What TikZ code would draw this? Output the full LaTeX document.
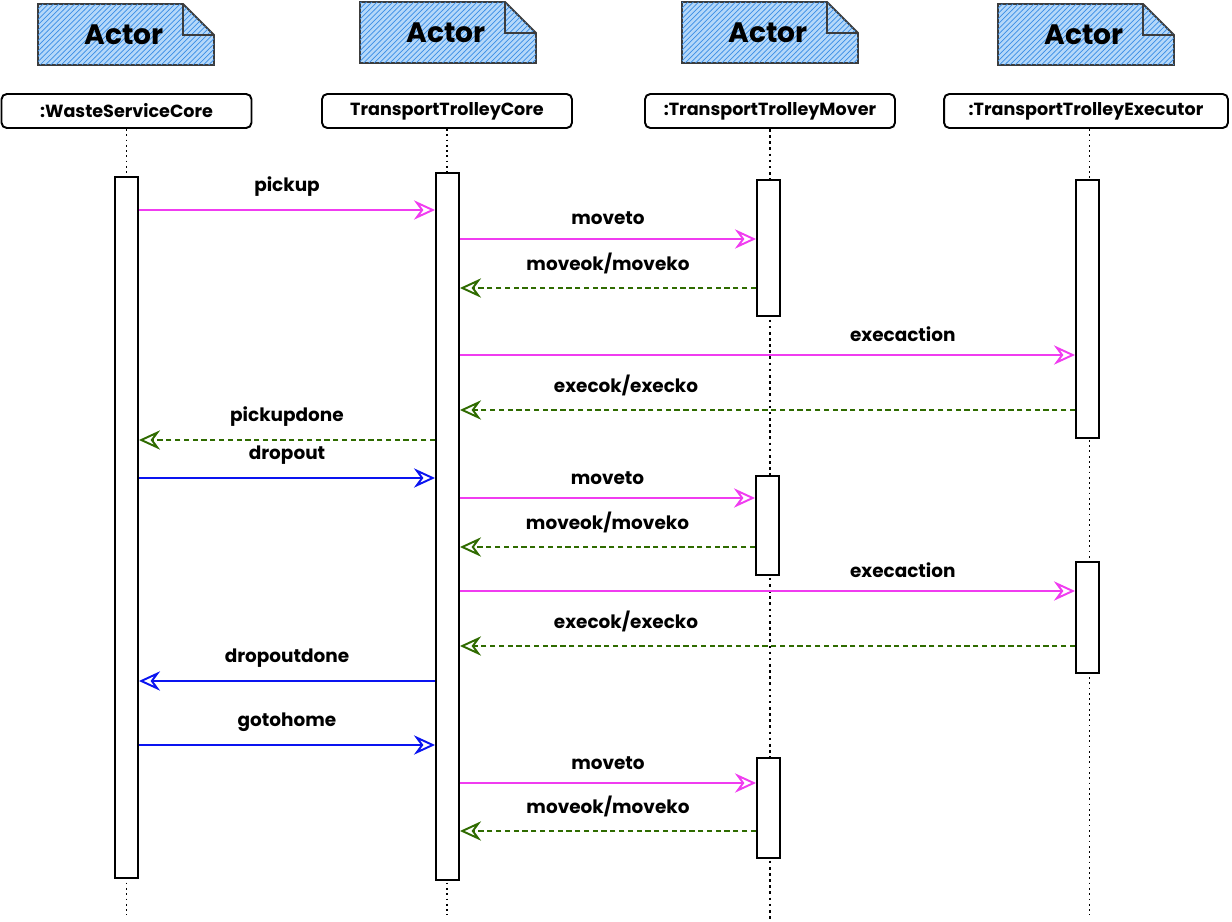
\documentclass[tikz,border=0pt]{standalone}
\usepackage{fontspec}
\setmainfont{Poppins}
\usetikzlibrary{positioning,arrows.meta,patterns}

\definecolor{callpink}{HTML}{F03CF0}
\definecolor{replygreen}{HTML}{2F6B00}
\definecolor{callblue}{HTML}{0A14F0}
\definecolor{notefill}{HTML}{B5D8F9}
\definecolor{notehatch}{HTML}{3A8EE6}
\definecolor{noteline}{HTML}{3C3C3C}

\begin{document}
\begin{tikzpicture}[x=0.02cm,y=-0.02cm,
    note/.style={draw=noteline,line width=1.1pt,fill=notefill,postaction={pattern=north east lines,pattern color=notehatch}},
    head/.style={draw,rounded corners=3pt,line width=1.1pt,minimum width=5cm,minimum height=0.68cm,inner sep=2pt,font=\fontsize{10}{12}\selectfont\bfseries},
    life/.style={dotted,line width=1pt},
    bar/.style={draw,fill=white,line width=1.1pt,minimum width=0.46cm,inner sep=0pt},
    lbl/.style={above=4pt,font=\fontsize{10.5}{12}\selectfont\bfseries,text=black},
    call/.style={-{Stealth[open,length=12pt,width=11pt,inset=4pt]},line width=1.1pt},
    reply/.style={call,replygreen,dash pattern=on 3pt off 2pt}
  ]
  \useasboundingbox (0,0) rectangle (1232,922);

  % actors
  \foreach \i/\x/\y in {1/38/4,2/360/2,3/682/2,4/998/4}{
    \draw[note] (\x,\y) -- ++(145,0) -- ++(31,31) -- ++(0,30) -- ++(-176,0) -- cycle;
    \draw[noteline,line width=1.1pt] (\x+145,\y) -- ++(0,31) -- ++(31,0);
    \node[font=\fontsize{16}{18}\selectfont\bfseries] (actor\i) at (\x+86,\y+31) {Actor};
  }

  % participants
  \node[head] (core) at (126.5,111) {:WasteServiceCore};
  \node[head] (tcore) at (447,111) {TransportTrolleyCore};
  \node[head] (mover) at (770,111) {:TransportTrolleyMover};
  \node[head,minimum width=5.68cm] (exec) at (1086,111) {:TransportTrolleyExecutor};

  \draw[life] (core.south) -- (core.south |- 0,915);
  \draw[life] (tcore.south) -- (tcore.south |- 0,915);
  \draw[life,line width=1.5pt] (mover.south) -- (mover.south |- 0,920);
  \draw[life] ([xshift=2pt]exec.south) -- ([xshift=2pt]exec.south |- 0,915);

  % activations
  \node[bar,minimum height=14.02cm] (wsc) at (126.5,527.5) {};
  \node[bar,minimum height=14.14cm] (ttc) at (447.5,526.5) {};
  \node[bar,minimum height=2.72cm] (mov1) at (768.5,248) {};
  \node[bar,minimum height=1.98cm] (mov2) at (767.5,525.5) {};
  \node[bar,minimum height=2cm] (mov3) at (768.5,808) {};
  \node[bar,minimum height=5.16cm] (ex1) at (1087.5,309) {};
  \node[bar,minimum height=2.22cm] (ex2) at (1087.5,617.5) {};

  % messages
  \draw[call,callpink] (wsc.east |- 0,210) -- node[lbl] {pickup} (ttc.west |- 0,210);
  \draw[call,callpink] (ttc.east |- 0,239) -- node[lbl] {moveto} (mov1.west |- 0,239);
  \draw[reply] (mov1.west |- 0,288) -- node[lbl] {moveok/moveko} (ttc.east |- 0,288);
  \draw[call,callpink] (ttc.east |- 0,355) -- node[lbl,pos=0.72] {execaction} (ex1.west |- 0,355);
  \draw[reply] (ex1.west |- 0,410) -- node[lbl,pos=0.73] {execok/execko} (ttc.east |- 0,410);
  \draw[reply] (ttc.west |- 0,440) -- node[lbl] {pickupdone} (wsc.east |- 0,440);
  \draw[call,callblue] (wsc.east |- 0,478) -- node[lbl] {dropout} (ttc.west |- 0,478);
  \draw[call,callpink] (ttc.east |- 0,498) -- node[lbl] {moveto} (mov2.west |- 0,498);
  \draw[reply] (mov2.west |- 0,547) -- node[lbl] {moveok/moveko} (ttc.east |- 0,547);
  \draw[call,callpink] (ttc.east |- 0,591) -- node[lbl,pos=0.72] {execaction} (ex2.west |- 0,591);
  \draw[reply] (ex2.west |- 0,646) -- node[lbl,pos=0.73] {execok/execko} (ttc.east |- 0,646);
  \draw[call,callblue] (ttc.west |- 0,681) -- node[lbl] {dropoutdone} (wsc.east |- 0,681);
  \draw[call,callblue] (wsc.east |- 0,745) -- node[lbl] {gotohome} (ttc.west |- 0,745);
  \draw[call,callpink] (ttc.east |- 0,783) -- node[lbl] {moveto} (mov3.west |- 0,783);
  \draw[reply] (mov3.west |- 0,831) -- node[lbl] {moveok/moveko} (ttc.east |- 0,831);
\end{tikzpicture}
\end{document}
